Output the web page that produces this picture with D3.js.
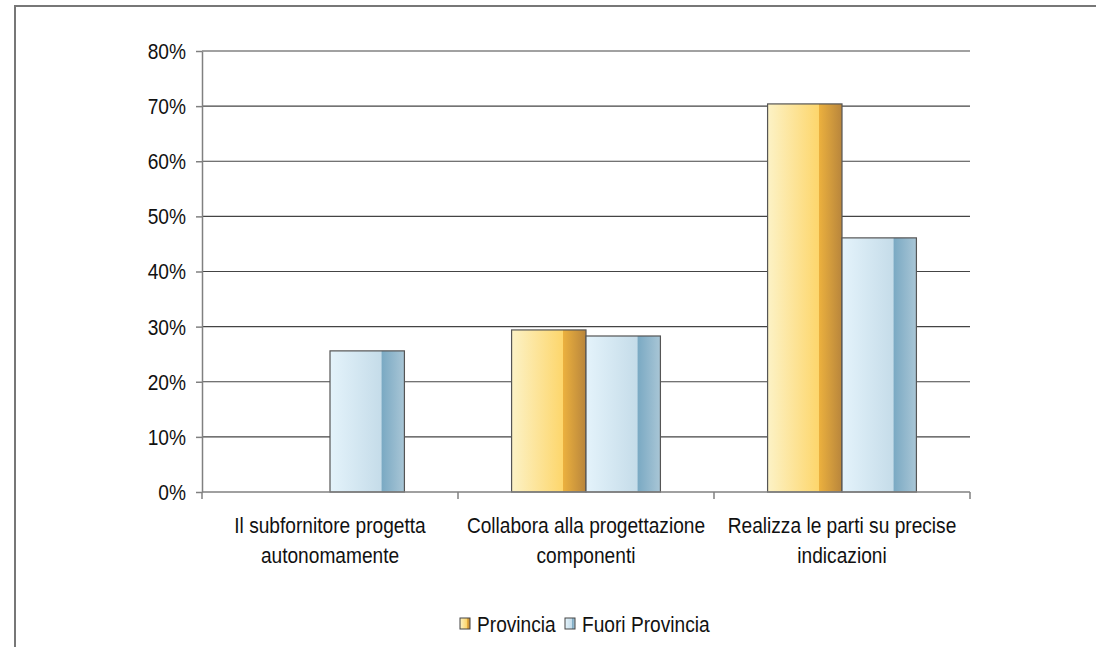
<!DOCTYPE html>
<html>
<head>
<meta charset="utf-8">
<script src="https://cdn.jsdelivr.net/npm/d3@7"></script>
<style>
  body { margin: 0; background: #fff; }
  svg text { font-family: "Liberation Sans", Arial, sans-serif; fill: #111; }
</style>
</head>
<body>
<svg id="chart" width="1096" height="647"></svg>
<script>
// data
const categories = [
  ["Il subfornitore progetta", "autonomamente"],
  ["Collabora alla progettazione", "componenti"],
  ["Realizza le parti su precise", "indicazioni"]
];
const seriesNames = ["Provincia", "Fuori Provincia"];
const provincia = [0, 0.294, 0.704];
const fuoriProvincia = [0.256, 0.283, 0.461];
const yTicks = [0, 0.1, 0.2, 0.3, 0.4, 0.5, 0.6, 0.7, 0.8];

// the original picture was squeezed horizontally, so text is too
const squeeze = "scale(0.87,1)";
const fontSize = 22;

const svg = d3.select("#chart");
const margin = { top: 51, left: 202, right: 126, bottom: 155 };
const width = 1096 - margin.left - margin.right;
const height = 647 - margin.top - margin.bottom;

// outer frame (cropped on right and bottom)
svg.append("path")
  .attr("d", "M15,647 L15,6 L1096,6")
  .attr("fill", "none")
  .attr("stroke", "#777")
  .attr("stroke-width", 2);

const defs = svg.append("defs");
function grad(id, stops) {
  const g = defs.append("linearGradient").attr("id", id)
    .attr("x1", "0%").attr("x2", "100%").attr("y1", "0%").attr("y2", "0%");
  stops.forEach(s => g.append("stop").attr("offset", s[0]).attr("stop-color", s[1]));
}
grad("gProv", [["0%", "#fcf2c6"], ["69%", "#fdd66c"], ["69.5%", "#ebb03e"], ["100%", "#b8853c"]]);
grad("gFuori", [["0%", "#e4f3fb"], ["69%", "#c5dce9"], ["69.5%", "#7aa9c3"], ["100%", "#a9c6d6"]]);
const fills = ["url(#gProv)", "url(#gFuori)"];

const g = svg.append("g").attr("transform", "translate(" + margin.left + "," + margin.top + ")");

const x0 = d3.scaleBand().domain(d3.range(categories.length)).range([0, width]);
const x1 = d3.scaleBand().domain([0, 1]).range([0, x0.bandwidth()]).paddingOuter(0.72).paddingInner(0);
const y = d3.scaleLinear().domain([0, 0.8]).range([height, 0]);

// gridlines
g.append("g").selectAll("line")
  .data(yTicks.slice(1))
  .enter().append("line")
  .attr("x1", 0).attr("x2", width)
  .attr("y1", d => y(d)).attr("y2", d => y(d))
  .attr("stroke", "#444").attr("stroke-width", 1.2);

// bars
const values = [provincia, fuoriProvincia];
const groups = g.append("g").selectAll("g")
  .data(categories.map((c, i) => i))
  .enter().append("g")
  .attr("transform", i => "translate(" + x0(i) + ",0)");
groups.selectAll("rect")
  .data(i => [0, 1].map(s => ({ s: s, v: values[s][i] })).filter(d => d.v > 0))
  .enter().append("rect")
  .attr("x", d => x1(d.s))
  .attr("y", d => y(d.v))
  .attr("width", x1.bandwidth())
  .attr("height", d => height - y(d.v))
  .attr("fill", d => fills[d.s])
  .attr("stroke", "#555")
  .attr("stroke-width", 1.2);

// y axis
const yAxis = g.append("g")
  .call(d3.axisLeft(y).tickValues(yTicks).tickFormat(d3.format(".0%")).tickSize(6).tickSizeOuter(0));
yAxis.select(".domain").attr("stroke", "#808080").attr("stroke-width", 1.5);
yAxis.selectAll(".tick line").attr("stroke", "#808080").attr("stroke-width", 1.5);
yAxis.selectAll(".tick text")
  .attr("x", 0)
  .attr("dy", "0.34em")
  .attr("transform", "translate(-16,0) " + squeeze)
  .attr("font-size", fontSize)
  .attr("font-family", "Liberation Sans, Arial, sans-serif")
  .attr("fill", "#111");

// x axis
const xAxis = g.append("g").attr("transform", "translate(0," + height + ")");
xAxis.append("line").attr("x1", 0).attr("x2", width)
  .attr("stroke", "#808080").attr("stroke-width", 1.5);
xAxis.selectAll(".xt")
  .data(d3.range(categories.length + 1))
  .enter().append("line")
  .attr("x1", i => i * x0.step()).attr("x2", i => i * x0.step())
  .attr("y1", 0).attr("y2", 7)
  .attr("stroke", "#808080").attr("stroke-width", 1.5);
const labels = xAxis.selectAll(".xl")
  .data(categories)
  .enter().append("text")
  .attr("text-anchor", "middle")
  .attr("font-size", fontSize)
  .attr("transform", (d, i) => "translate(" + (x0(i) + x0.bandwidth() / 2) + ",0) " + squeeze);
labels.selectAll("tspan")
  .data(d => d)
  .enter().append("tspan")
  .attr("x", 0)
  .attr("y", (d, i) => 41 + i * 30)
  .text(d => d);

// legend
const legend = svg.append("g").attr("transform", "translate(460,624)");
const legendItems = [
  { name: seriesNames[0], x: 0, fill: fills[0] },
  { name: seriesNames[1], x: 105, fill: fills[1] }
];
const li = legend.selectAll("g").data(legendItems).enter().append("g")
  .attr("transform", d => "translate(" + d.x + ",0)");
li.append("rect")
  .attr("x", 0).attr("y", -6).attr("width", 10).attr("height", 11)
  .attr("fill", d => d.fill).attr("stroke", "#444").attr("stroke-width", 1);
li.append("text")
  .attr("x", 0).attr("y", 8)
  .attr("transform", "translate(17,0) " + squeeze)
  .attr("font-size", fontSize)
  .text(d => d.name);
</script>
</body>
</html>
